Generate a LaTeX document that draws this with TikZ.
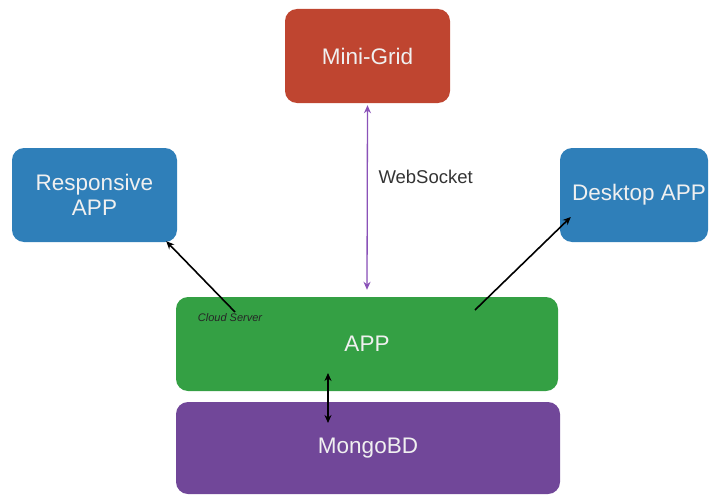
\documentclass[tikz,border=0pt]{standalone}
\usepackage{fontspec}
\setmainfont{Liberation Sans}
\usetikzlibrary{arrows.meta}
\definecolor{gridred}{HTML}{BF4530}
\definecolor{appblue}{HTML}{2F7FB9}
\definecolor{appgreen}{HTML}{34A044}
\definecolor{dbpurple}{HTML}{714799}
\definecolor{wsviolet}{HTML}{8A52B8}
\definecolor{labelgray}{HTML}{333333}
\begin{document}
\begin{tikzpicture}[x=1pt,y=-1pt,
  box/.style={rounded corners=12pt, draw=none, text=white!94!black, align=center, inner sep=0pt,
    font=\fontsize{22.5}{25}\selectfont},
  conn/.style={line width=1.6pt, -{Stealth[length=8pt,width=7pt]}},
  dconn/.style={line width=1.6pt, {Stealth[length=8pt,width=7pt]}-{Stealth[length=8pt,width=7pt]}}
]
\useasboundingbox (0,0) rectangle (712,495);
\node[box, fill=gridred, minimum width=165pt, minimum height=94pt] (mg) at (367.5,56) {Mini-Grid};
\node[box, fill=appblue, minimum width=165pt, minimum height=94pt] (resp) at (94.5,195) {Responsive\\APP};
\node[box, fill=appblue, minimum width=148pt, minimum height=94pt] (desk) at (634,195) {\hspace*{10pt}Desktop APP};
\node[box, fill=appgreen, minimum width=382pt, minimum height=94pt] (app) at (367,344) {APP};
\node[box, fill=dbpurple, minimum width=384pt, minimum height=92pt] (db) at (368,448) {MongoBD};
\node[font=\fontsize{11}{13}\selectfont\itshape, text=black!85] (cs) at (230,318) {Cloud Server};
\node[font=\fontsize{18.5}{21}\selectfont, text=labelgray, anchor=west] (ws) at (375,177) {WebSocket};
% WebSocket link
\draw[dconn, draw=wsviolet, fill=wsviolet, line width=1.3pt] ([yshift=-2pt]mg.south) -- ([yshift=7pt]app.north);
% app to responsive
\coordinate (ls) at (235,312);
\draw[conn] (ls) -- ([xshift=-11pt,yshift=1pt]resp.south east);
% app to desktop
\coordinate (rs) at (475,310);
\draw[conn] (rs) -- ([xshift=11pt,yshift=-22pt]desk.west);
% app to db
\draw[dconn] ([xshift=-39pt,yshift=-29pt]app.center) -- ([xshift=-40pt,yshift=25pt]db.center);
\end{tikzpicture}
\end{document}
